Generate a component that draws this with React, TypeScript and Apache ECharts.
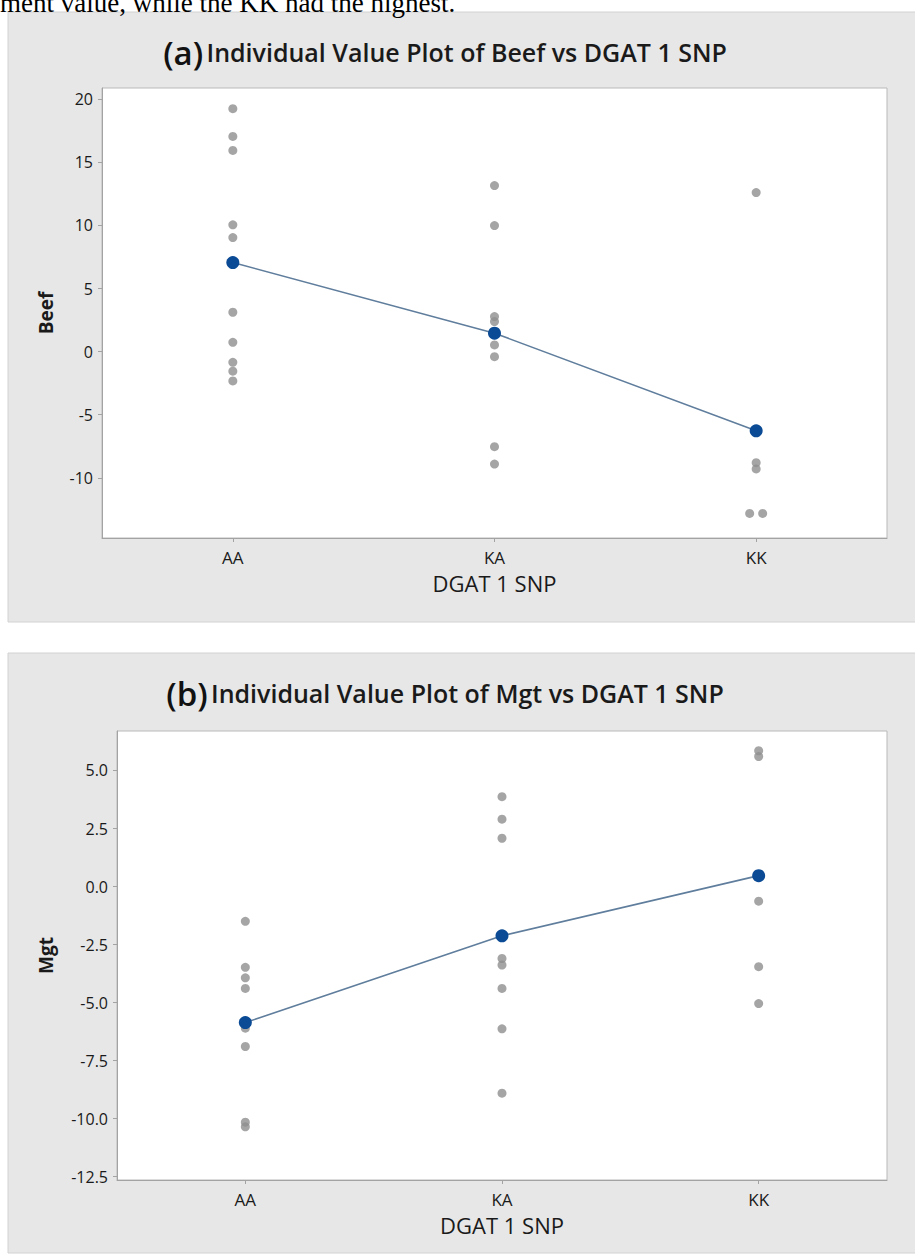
import React, { useEffect, useRef } from 'react';
import * as echarts from 'echarts';

// ---- data ----
const CATEGORIES = ['AA', 'KA', 'KK'];

const BEEF_AA = [19.25, 17.05, 15.94, 10.05, 9.04, 3.12, 0.74, -0.85, -1.55, -2.32];
const BEEF_KA = [13.16, 9.99, 2.78, 2.38, 0.53, -0.4, -7.53, -8.91];
const BEEF_KK = [12.6, -8.8, -9.3, -12.82, -12.82];
const BEEF_MEANS = [7.06, 1.46, -6.28];
const BEEF_TICKS = [-10, -5, 0, 5, 10, 15, 20];
const BEEF_RANGE = [-14.77, 20.89];

const MGT_AA = [-1.5, -3.48, -3.93, -4.39, -6.1, -6.89, -10.15, -10.35];
const MGT_KA = [3.87, 2.9, 2.08, -3.1, -3.38, -4.39, -6.13, -8.9];
const MGT_KK = [5.85, 5.6, -0.63, -3.45, -5.04];
const MGT_MEANS = [-5.86, -2.12, 0.47];
const MGT_TICKS = [-12.5, -10, -7.5, -5, -2.5, 0, 2.5, 5];
const MGT_RANGE = [-12.64, 6.7];

const TOP_TEXT = 'ment value, while the KK had the highest.';
const TITLE_A = ['(a)', 'Individual Value Plot of Beef vs DGAT 1 SNP'];
const TITLE_B = ['(b)', 'Individual Value Plot of Mgt vs DGAT 1 SNP'];
const X_NAME = 'DGAT 1 SNP';

// identical values inside one group are spread sideways, as Minitab does
function buildPoints(groups: number[][]) {
  const out: any[] = [];
  groups.forEach((vals, ci) => {
    const count = new Map<number, number>();
    vals.forEach((v) => count.set(v, (count.get(v) || 0) + 1));
    const seen = new Map<number, number>();
    vals.forEach((v) => {
      const n = count.get(v)!;
      const k = seen.get(v) || 0;
      seen.set(v, k + 1);
      out.push({ value: [ci, v], symbolOffset: [(k - (n - 1) / 2) * 13, 0] });
    });
  });
  return out;
}

const FONT = "'Open Sans', 'Noto Sans', sans-serif";
const TEXT_COLOR = '#1a1a1a';
const AXIS_COLOR = '#a3a3a3';
const DOT_COLOR = '#8f8f8f';
const MEAN_COLOR = '#0b4a94';
const LINE_COLOR = '#5f7d9c';

function yAxis(grid: number, name: string, range: number[], ticks: number[], digits: number, gap: number) {
  return {
    type: 'value',
    gridIndex: grid,
    min: range[0],
    max: range[1],
    name,
    nameLocation: 'middle',
    nameRotate: 90,
    nameGap: gap,
    nameTextStyle: { fontFamily: FONT, fontSize: 19, fontWeight: 'bold', color: TEXT_COLOR },
    axisLine: { show: true, onZero: false, lineStyle: { color: AXIS_COLOR } },
    axisTick: { show: true, length: 4, customValues: ticks, lineStyle: { color: AXIS_COLOR } },
    axisLabel: {
      customValues: ticks,
      margin: 9,
      fontFamily: FONT,
      fontSize: 16,
      color: TEXT_COLOR,
      formatter: (v: number) => v.toFixed(digits),
    },
    splitLine: { show: false },
  };
}

function xAxis(grid: number) {
  return {
    type: 'category',
    gridIndex: grid,
    data: CATEGORIES,
    boundaryGap: true,
    name: X_NAME,
    nameLocation: 'middle',
    nameGap: 34,
    nameTextStyle: { fontFamily: FONT, fontSize: 22, color: TEXT_COLOR },
    axisLine: { show: true, onZero: false, lineStyle: { color: AXIS_COLOR } },
    axisTick: { show: true, alignWithLabel: true, length: 4, lineStyle: { color: AXIS_COLOR } },
    axisLabel: { margin: 11, fontFamily: FONT, fontSize: 17, color: TEXT_COLOR },
    splitLine: { show: false },
  };
}

function titleText(parts: string[], x: number, y: number) {
  return {
    type: 'text',
    x,
    y,
    z: 10,
    style: {
      text: `{a|${parts[0]}} {t|${parts[1]}}`,
      align: 'center',
      verticalAlign: 'middle',
      rich: {
        a: { fontFamily: FONT, fontSize: 33, fontWeight: 600, fill: '#111', color: '#111' },
        t: { fontFamily: FONT, fontSize: 25, fontWeight: 600, fill: '#1a1a1a', color: '#1a1a1a' },
      },
    },
  };
}

export default function App() {
  const ref = useRef<HTMLDivElement>(null);
  useEffect(() => {
    if (!ref.current) return;
    const chart = echarts.init(ref.current, undefined, { renderer: 'svg' });
    const gridStyle = { show: true, backgroundColor: '#ffffff', borderColor: '#b9b9b9', borderWidth: 1 };
    chart.setOption({
      animation: false,
      backgroundColor: '#ffffff',
      grid: [
        { left: 102, top: 88, width: 785, height: 450, ...gridStyle },
        { left: 117, top: 731, width: 770, height: 449, ...gridStyle },
      ],
      xAxis: [xAxis(0), xAxis(1)],
      yAxis: [
        yAxis(0, 'Beef', BEEF_RANGE, BEEF_TICKS, 0, 47),
        yAxis(1, 'Mgt', MGT_RANGE, MGT_TICKS, 1, 62),
      ],
      graphic: [
        { type: 'rect', z: -10, shape: { x: 8, y: 12, width: 920, height: 610 }, style: { fill: '#e7e7e7', stroke: '#d2d2d2', lineWidth: 1 } },
        { type: 'rect', z: -10, shape: { x: 8, y: 653, width: 920, height: 600 }, style: { fill: '#e7e7e7', stroke: '#d2d2d2', lineWidth: 1 } },
        {
          type: 'text',
          x: 0,
          y: 16,
          z: 10,
          style: { text: TOP_TEXT, font: "27px 'Liberation Serif', 'Times New Roman', serif", fill: '#000', align: 'left', verticalAlign: 'bottom' },
        },
        titleText(TITLE_A, 445, 52),
        titleText(TITLE_B, 445, 693),
      ],
      series: [
        {
          type: 'scatter',
          xAxisIndex: 0,
          yAxisIndex: 0,
          symbol: 'circle',
          symbolSize: 9,
          itemStyle: { color: DOT_COLOR },
          data: buildPoints([BEEF_AA, BEEF_KA, BEEF_KK]),
          z: 2,
        },
        {
          type: 'line',
          xAxisIndex: 0,
          yAxisIndex: 0,
          symbol: 'circle',
          symbolSize: 13,
          showSymbol: true,
          lineStyle: { color: LINE_COLOR, width: 1.6 },
          itemStyle: { color: MEAN_COLOR, borderWidth: 0 },
          data: BEEF_MEANS,
          z: 3,
        },
        {
          type: 'scatter',
          xAxisIndex: 1,
          yAxisIndex: 1,
          symbol: 'circle',
          symbolSize: 9,
          itemStyle: { color: DOT_COLOR },
          data: buildPoints([MGT_AA, MGT_KA, MGT_KK]),
          z: 2,
        },
        {
          type: 'line',
          xAxisIndex: 1,
          yAxisIndex: 1,
          symbol: 'circle',
          symbolSize: 13,
          showSymbol: true,
          lineStyle: { color: LINE_COLOR, width: 1.6 },
          itemStyle: { color: MEAN_COLOR, borderWidth: 0 },
          data: MGT_MEANS,
          z: 3,
        },
      ],
    });
    return () => chart.dispose();
  }, []);
  return (
    <div
      ref={ref}
      style={{ position: 'absolute', left: 0, top: 0, width: 915, height: 1257, background: '#fff' }}
    />
  );
}
